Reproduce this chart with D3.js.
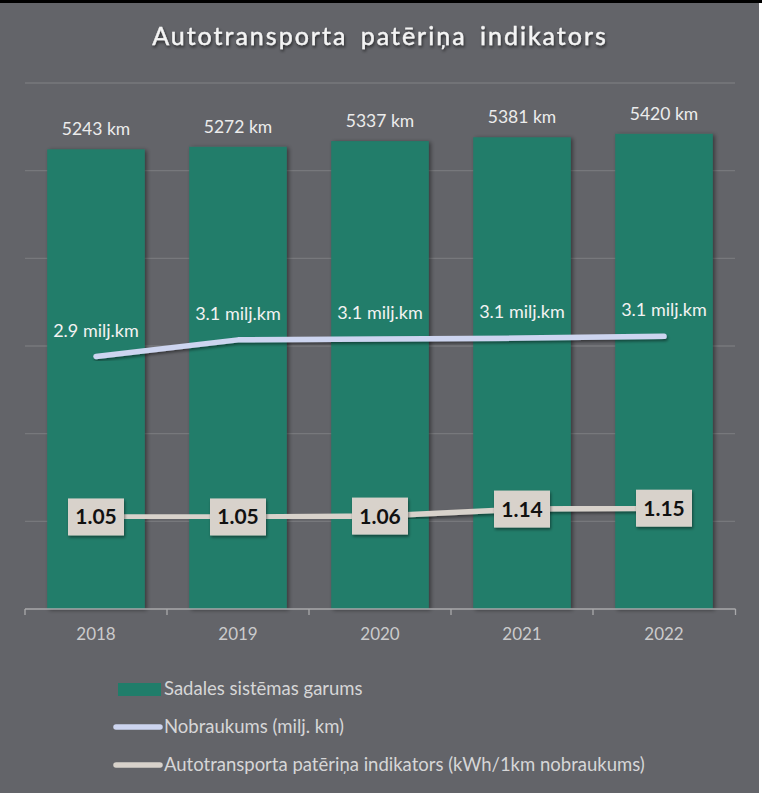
<!DOCTYPE html>
<html>
<head>
<meta charset="utf-8">
<script src="https://cdn.jsdelivr.net/npm/d3@7"></script>
<style>
body { margin: 0; background: #ffffff; }
svg { display: block; }
</style>
</head>
<body>
<script>
var Green = "#207d6a"
var Lavender = "#cdd5f0"
var Beige = "#d8d2cb"
var Bg = "#636469"

var years = ["2018", "2019", "2020", "2021", "2022"];
var network = [5243, 5272, 5337, 5381, 5420];          // Sadales sistēmas garums, km
var mileage = [2.88, 3.07, 3.08, 3.09, 3.11];           // Nobraukums, milj. km
var indicator = [1.05, 1.05, 1.06, 1.14, 1.15];         // kWh/1km nobraukums
var leftTicks = [0, 1000, 2000, 3000, 4000, 5000, 6000];

var svg = d3.select("body").append("svg")
	.attr("width", 774)
	.attr("height", 793)
	.style("font-family", "Lato, 'Open Sans', sans-serif");

var defs = svg.append("defs");
function shadow(id, dx, dy, blur, op) {
	defs.append("filter").attr("id", id)
		.attr("x", "-20%").attr("y", "-20%").attr("width", "140%").attr("height", "140%")
		.append("feDropShadow")
		.attr("dx", dx).attr("dy", dy)
		.attr("stdDeviation", blur)
		.attr("flood-color", "#000")
		.attr("flood-opacity", op);
}
shadow("barShadow", 2, 1, 2, 0.45);
shadow("lineShadow", 1, 2, 1.5, 0.45);
shadow("textShadow", 1, 2, 1.5, 0.6);

// background and the thin top border
svg.append("rect").attr("x", 0).attr("y", 3).attr("width", 759).attr("height", 790).attr("fill", Bg);
svg.append("rect").attr("x", 0).attr("y", 0).attr("width", 762).attr("height", 3).attr("fill", "#000");

svg.append("text")
	.attr("x", 380)
	.attr("y", 45)
	.attr("text-anchor", "middle")
	.attr("font-size", 25)
	.attr("letter-spacing", 2)
	.attr("word-spacing", 5)
	.attr("fill", "#f4f4f4")
	.attr("stroke", "#f4f4f4")
	.attr("stroke-width", 0.4)
	.attr("filter", "url(#textShadow)")
	.text("Autotransporta patēriņa indikators");

var x = d3.scaleBand().domain(years).range([25, 735]).paddingInner(0.313).paddingOuter(0.1565);
var y = d3.scaleLinear().domain([0, 6000]).range([609, 83]);
var y2 = d3.scaleLinear().domain([0, 6]).range([609, 83]);

// gridlines
svg.append("g").selectAll("line").data(leftTicks.slice(1)).enter()
	.append("line")
	.attr("x1", 25).attr("x2", 735)
	.attr("y1", d => y(d)).attr("y2", d => y(d))
	.attr("stroke", "#77787c")
	.attr("stroke-width", 1.3);

// bars
svg.append("g").selectAll("rect").data(network).enter()
	.append("rect")
	.attr("x", (d, i) => x(years[i]))
	.attr("y", d => y(d))
	.attr("width", x.bandwidth())
	.attr("height", d => y(0) - y(d))
	.attr("fill", Green)
	.attr("filter", "url(#barShadow)");

svg.append("g").selectAll("text").data(network).enter()
	.append("text")
	.attr("x", (d, i) => x(years[i]) + x.bandwidth() / 2)
	.attr("y", d => y(d) - 14)
	.attr("text-anchor", "middle")
	.attr("font-size", 17.5)
	.attr("fill", "#ececec")
	.text(d => d + " km");

// x axis
var xAxis = svg.append("g").attr("transform", "translate(0,609)");
xAxis.append("line").attr("x1", 25).attr("x2", 735.5).attr("stroke", "#a9a9ab").attr("stroke-width", 1.3);
var bounds = years.map(d => x(d) - x.step() * x.paddingInner() / 2).concat([735.5]);
xAxis.selectAll(".tk").data(bounds).enter()
	.append("line")
	.attr("x1", d => d).attr("x2", d => d)
	.attr("y1", 0).attr("y2", 6)
	.attr("stroke", "#a9a9ab").attr("stroke-width", 1.3);
xAxis.selectAll("text").data(years).enter()
	.append("text")
	.attr("x", d => x(d) + x.bandwidth() / 2)
	.attr("y", 31)
	.attr("text-anchor", "middle")
	.attr("font-size", 17)
	.attr("fill", "#cbcbcc")
	.text(d => d);

var cx = (d, i) => x(years[i]) + x.bandwidth() / 2;
var line = d3.line().x((d, i) => cx(d, i)).y(d => y2(d));

// Nobraukums
svg.append("path")
	.datum(mileage)
	.attr("d", line)
	.attr("fill", "none")
	.attr("stroke", Lavender)
	.attr("stroke-width", 5.5)
	.attr("stroke-linecap", "round")
	.attr("stroke-linejoin", "round")
	.attr("filter", "url(#lineShadow)");

svg.append("g").selectAll("text").data(mileage).enter()
	.append("text")
	.attr("x", cx)
	.attr("y", d => y2(d) - 20)
	.attr("text-anchor", "middle")
	.attr("font-size", 18)
	.attr("fill", "#f2f2f2")
	.text(d => d3.format(".1f")(d) + " milj.km");

// patēriņa indikators
svg.append("path")
	.datum(indicator)
	.attr("d", line)
	.attr("fill", "none")
	.attr("stroke", Beige)
	.attr("stroke-width", 5.5)
	.attr("stroke-linecap", "round")
	.attr("filter", "url(#lineShadow)");

var boxes = svg.append("g").selectAll("g").data(indicator).enter()
	.append("g")
	.attr("transform", (d, i) => "translate(" + cx(d, i) + "," + y2(d) + ")");
boxes.append("rect")
	.attr("x", -28).attr("y", -18.5)
	.attr("width", 56).attr("height", 37)
	.attr("fill", Beige)
	.attr("filter", "url(#lineShadow)");
boxes.append("text")
	.attr("y", 7.5)
	.attr("text-anchor", "middle")
	.attr("font-size", 21)
	.attr("font-weight", "bold")
	.attr("fill", "#111")
	.text(d => d3.format(".2f")(d));

// legend
var legend = svg.append("g").attr("font-size", 18.5).attr("fill", "#d6d6d7");
legend.append("rect").attr("x", 118).attr("y", 683).attr("width", 43).attr("height", 13).attr("fill", Green);
legend.append("text").attr("x", 164).attr("y", 695).text("Sadales sistēmas garums");
legend.append("line").attr("x1", 116).attr("x2", 160).attr("y1", 727).attr("y2", 727)
	.attr("stroke", Lavender).attr("stroke-width", 5.5).attr("stroke-linecap", "round");
legend.append("text").attr("x", 164).attr("y", 733).text("Nobraukums (milj. km)");
legend.append("line").attr("x1", 116).attr("x2", 160).attr("y1", 765).attr("y2", 765)
	.attr("stroke", Beige).attr("stroke-width", 5.5).attr("stroke-linecap", "round");
legend.append("text").attr("x", 164).attr("y", 771).text("Autotransporta patēriņa indikators (kWh/1km nobraukums)");
</script>
</body>
</html>
